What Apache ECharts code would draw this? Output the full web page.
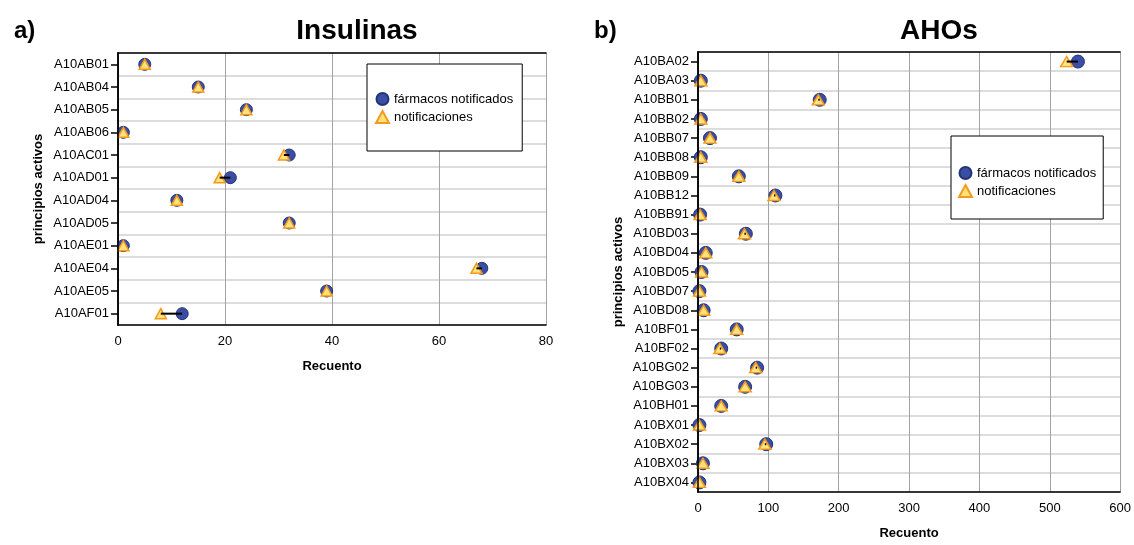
<!DOCTYPE html>
<html>
<head>
<meta charset="utf-8">
<script src="https://cdn.jsdelivr.net/npm/echarts@6/dist/echarts.min.js"></script>
<style>
  html, body { margin: 0; padding: 0; background: #fff; }
  #chart { width: 1134px; height: 545px; }
</style>
</head>
<body>
<div id="chart"></div>
<script>
// Insulinas: active ingredients, count of reported drugs vs. reports
const insCategories = ['A10AB01','A10AB04','A10AB05','A10AB06','A10AC01','A10AD01','A10AD04','A10AD05','A10AE01','A10AE04','A10AE05','A10AF01'];
const insFarmacos   = [5, 15, 24, 1, 32, 21, 11, 32, 1, 68, 39, 12];
const insNotif      = [5, 15, 24, 1, 31, 19, 11, 32, 1, 67, 39, 8];
const insTicks      = { min: 0, max: 80, interval: 20 };

// AHOs: oral antidiabetics
const ahoCategories = ['A10BA02','A10BA03','A10BB01','A10BB02','A10BB07','A10BB08','A10BB09','A10BB12','A10BB91','A10BD03','A10BD04','A10BD05','A10BD07','A10BD08','A10BF01','A10BF02','A10BG02','A10BG03','A10BH01','A10BX01','A10BX02','A10BX03','A10BX04'];
const ahoFarmacos   = [540, 4, 173, 4, 17, 4, 58, 110, 3, 68, 11, 5, 2, 8, 55, 33, 84, 67, 33, 2, 97, 7, 2];
const ahoNotif      = [524, 4, 171, 4, 17, 4, 58, 108, 3, 66, 11, 5, 2, 8, 55, 31, 82, 67, 33, 2, 95, 7, 2];
const ahoTicks      = { min: 0, max: 600, interval: 100 };

const NAME_F = 'fármacos notificados';
const NAME_N = 'notificaciones';
const FONT = '"Liberation Sans", Arial, Helvetica, sans-serif';

const circleStyle = { color: '#3a4ea3', borderColor: '#24347a', borderWidth: 1, opacity: 1 };
const triStyle = { color: '#ffe37a', borderColor: '#f39a1e', borderWidth: 1.5, opacity: 1 };

function pairs(values, cats) {
  return values.map((v, i) => [v, cats[i]]);
}

function connectors(a, b, cats) {
  return a.map((v, i) => [Math.min(v, b[i]), Math.max(v, b[i]), cats[i]]);
}

function xAxisFor(grid, ticks) {
  return {
    type: 'value', gridIndex: grid,
    min: ticks.min, max: ticks.max, interval: ticks.interval,
    name: 'Recuento', nameLocation: 'middle', nameGap: 35,
    nameTextStyle: { fontFamily: FONT, fontSize: 13, fontWeight: 'bold', color: '#000' },
    axisLine: { show: true, lineStyle: { color: '#000', width: 1.5 } },
    axisTick: { show: false },
    axisLabel: { fontFamily: FONT, fontSize: 13, color: '#000', margin: 10 },
    splitLine: { show: true, lineStyle: { color: '#a3a3a3', width: 1 } }
  };
}

// top edge of the plot frame
function xFrameFor(grid, ticks) {
  return {
    type: 'value', gridIndex: grid, position: 'top', z: 6,
    min: ticks.min, max: ticks.max, interval: ticks.interval,
    axisLine: { show: true, lineStyle: { color: '#000', width: 1.5 } },
    axisTick: { show: false }, axisLabel: { show: false }, splitLine: { show: false }
  };
}

function yAxisFor(grid, cats) {
  return {
    type: 'category', gridIndex: grid, data: cats, inverse: true,
    name: 'principios activos', nameLocation: 'middle', nameGap: 73, nameRotate: 90,
    nameTextStyle: { fontFamily: FONT, fontSize: 13, fontWeight: 'bold', color: '#000' },
    axisLine: { show: true, lineStyle: { color: '#000', width: 1.5 } },
    axisTick: { show: true, alignWithLabel: true, length: 7, lineStyle: { color: '#000', width: 1.5 } },
    axisLabel: { fontFamily: FONT, fontSize: 13, color: '#000', margin: 9 },
    splitLine: { show: true, lineStyle: { color: '#dcdcdc', width: 2 } }
  };
}

// right edge of the plot frame
function yFrameFor(grid, cats) {
  return {
    type: 'category', gridIndex: grid, data: cats, inverse: true, position: 'right', z: 6,
    axisLine: { show: true, lineStyle: { color: '#000', width: 1.5 } },
    axisTick: { show: false }, axisLabel: { show: false }, splitLine: { show: false }
  };
}

function seriesFor(xi, yi, cats, farm, notif, cSize, tSize) {
  return [
    {
      name: NAME_F, type: 'scatter', xAxisIndex: xi, yAxisIndex: yi,
      symbol: 'circle', symbolSize: cSize, itemStyle: circleStyle,
      data: pairs(farm, cats), z: 3, silent: true
    },
    {
      name: NAME_N, type: 'scatter', xAxisIndex: xi, yAxisIndex: yi,
      symbol: 'triangle', symbolSize: tSize, itemStyle: triStyle,
      data: pairs(notif, cats), z: 4, silent: true
    },
    {
      type: 'custom', xAxisIndex: xi, yAxisIndex: yi, z: 5, silent: true,
      data: connectors(farm, notif, cats),
      encode: { x: [0, 1], y: 2 },
      renderItem: function (params, api) {
        const p0 = api.coord([api.value(0), api.value(2)]);
        const p1 = api.coord([api.value(1), api.value(2)]);
        return {
          type: 'line',
          shape: { x1: p0[0], y1: p0[1], x2: p1[0], y2: p1[1] },
          style: { stroke: '#000', lineWidth: 2 }
        };
      }
    }
  ];
}

function legendFor(left, top, padding) {
  return {
    orient: 'vertical', left: left, top: top,
    data: [NAME_F, NAME_N],
    backgroundColor: '#fff', borderColor: '#000', borderWidth: 1,
    padding: padding, itemGap: 4, itemWidth: 13, itemHeight: 12,
    selectedMode: false,
    textStyle: { fontFamily: FONT, fontSize: 13, color: '#000' }
  };
}

const chart = echarts.init(document.getElementById('chart'), null, { renderer: 'canvas' });

chart.setOption({
  animation: false,
  backgroundColor: '#fff',
  title: [
    { text: 'a)', left: 9, top: 14, textStyle: { fontFamily: FONT, fontSize: 24, fontWeight: 'bold', color: '#000' } },
    { text: 'Insulinas', left: 352, top: 12, textAlign: 'center', textStyle: { fontFamily: FONT, fontSize: 28, fontWeight: 'bold', color: '#000' } },
    { text: 'b)', left: 589, top: 14, textStyle: { fontFamily: FONT, fontSize: 24, fontWeight: 'bold', color: '#000' } },
    { text: 'AHOs', left: 934, top: 12, textAlign: 'center', textStyle: { fontFamily: FONT, fontSize: 28, fontWeight: 'bold', color: '#000' } }
  ],
  grid: [
    { left: 118, top: 53, width: 428, height: 272 },
    { left: 698, top: 52, width: 425, height: 446 }
  ],
  legend: [
    legendFor(367, 64, [28, 9, 27, 8]),
    legendFor(951, 136, [30, 7, 21, 7])
  ],
  xAxis: [xAxisFor(0, insTicks), xAxisFor(1, ahoTicks), xFrameFor(0, insTicks), xFrameFor(1, ahoTicks)],
  yAxis: [yAxisFor(0, insCategories), yAxisFor(1, ahoCategories), yFrameFor(0, insCategories), yFrameFor(1, ahoCategories)],
  series: [].concat(
    seriesFor(0, 0, insCategories, insFarmacos, insNotif, 12, [11, 10]),
    seriesFor(1, 1, ahoCategories, ahoFarmacos, ahoNotif, 13, [12, 10])
  )
});
</script>
</body>
</html>
